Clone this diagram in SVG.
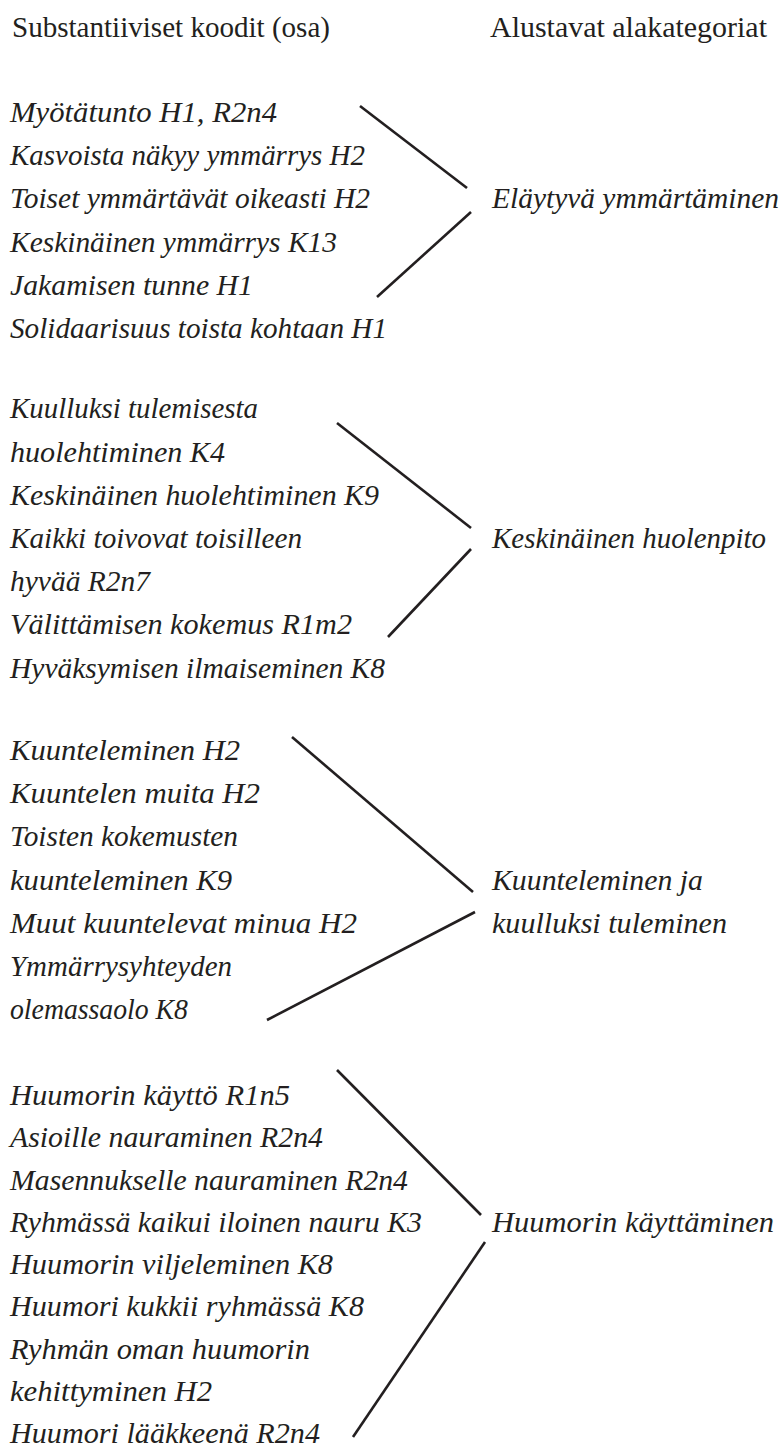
<svg xmlns="http://www.w3.org/2000/svg" width="783" height="1449" viewBox="0 0 783 1449">
  <style>
    text { font-family: "Liberation Serif", "DejaVu Serif", serif; fill: #231f20; font-size: 29.5px; }
    .head { font-style: normal; }
    .code, .cat { font-style: italic; }
    .link { stroke: #231f20; stroke-width: 2.6; fill: none; stroke-linecap: butt; }
  </style>
  <rect width="783" height="1449" fill="#ffffff"/>

  <!-- column headings -->
  <g id="headings">
    <text class="head" x="12" y="37" textLength="318" lengthAdjust="spacingAndGlyphs">Substantiiviset koodit (osa)</text>
    <text class="head" x="490" y="37" textLength="277" lengthAdjust="spacingAndGlyphs">Alustavat alakategoriat</text>
  </g>

  <!-- group 1 -->
  <g id="codes-1">
    <text class="code" x="10" y="122" textLength="267" lengthAdjust="spacingAndGlyphs">Myötätunto H1, R2n4</text>
    <text class="code" x="10" y="165" textLength="355" lengthAdjust="spacingAndGlyphs">Kasvoista näkyy ymmärrys H2</text>
    <text class="code" x="10" y="208" textLength="360" lengthAdjust="spacingAndGlyphs">Toiset ymmärtävät oikeasti H2</text>
    <text class="code" x="10" y="252" textLength="327" lengthAdjust="spacingAndGlyphs">Keskinäinen ymmärrys K13</text>
    <text class="code" x="10" y="295" textLength="243" lengthAdjust="spacingAndGlyphs">Jakamisen tunne H1</text>
    <text class="code" x="10" y="338" textLength="377" lengthAdjust="spacingAndGlyphs">Solidaarisuus toista kohtaan H1</text>
  </g>
  <g id="category-1">
    <text class="cat" x="492" y="208" textLength="287" lengthAdjust="spacingAndGlyphs">Eläytyvä ymmärtäminen</text>
  </g>

  <!-- group 2 -->
  <g id="codes-2">
    <text class="code" x="10" y="418" textLength="248" lengthAdjust="spacingAndGlyphs">Kuulluksi tulemisesta</text>
    <text class="code" x="10" y="462" textLength="215" lengthAdjust="spacingAndGlyphs">huolehtiminen K4</text>
    <text class="code" x="10" y="505" textLength="369" lengthAdjust="spacingAndGlyphs">Keskinäinen huolehtiminen K9</text>
    <text class="code" x="10" y="548" textLength="292" lengthAdjust="spacingAndGlyphs">Kaikki toivovat toisilleen</text>
    <text class="code" x="10" y="591" textLength="140" lengthAdjust="spacingAndGlyphs">hyvää R2n7</text>
    <text class="code" x="10" y="634" textLength="342" lengthAdjust="spacingAndGlyphs">Välittämisen kokemus R1m2</text>
    <text class="code" x="10" y="678" textLength="375" lengthAdjust="spacingAndGlyphs">Hyväksymisen ilmaiseminen K8</text>
  </g>
  <g id="category-2">
    <text class="cat" x="492" y="548" textLength="274" lengthAdjust="spacingAndGlyphs">Keskinäinen huolenpito</text>
  </g>

  <!-- group 3 -->
  <g id="codes-3">
    <text class="code" x="10" y="760" textLength="230" lengthAdjust="spacingAndGlyphs">Kuunteleminen H2</text>
    <text class="code" x="10" y="803" textLength="250" lengthAdjust="spacingAndGlyphs">Kuuntelen muita H2</text>
    <text class="code" x="10" y="846" textLength="228" lengthAdjust="spacingAndGlyphs">Toisten kokemusten</text>
    <text class="code" x="10" y="890" textLength="222" lengthAdjust="spacingAndGlyphs">kuunteleminen K9</text>
    <text class="code" x="10" y="933" textLength="347" lengthAdjust="spacingAndGlyphs">Muut kuuntelevat minua H2</text>
    <text class="code" x="10" y="976" textLength="222" lengthAdjust="spacingAndGlyphs">Ymmärrysyhteyden</text>
    <text class="code" x="10" y="1019" textLength="178" lengthAdjust="spacingAndGlyphs">olemassaolo K8</text>
  </g>
  <g id="category-3">
    <text class="cat" x="492" y="890" textLength="211" lengthAdjust="spacingAndGlyphs">Kuunteleminen ja</text>
    <text class="cat" x="492" y="933" textLength="235" lengthAdjust="spacingAndGlyphs">kuulluksi tuleminen</text>
  </g>

  <!-- group 4 -->
  <g id="codes-4">
    <text class="code" x="10" y="1105" textLength="280" lengthAdjust="spacingAndGlyphs">Huumorin käyttö R1n5</text>
    <text class="code" x="10" y="1147" textLength="313" lengthAdjust="spacingAndGlyphs">Asioille nauraminen R2n4</text>
    <text class="code" x="10" y="1190" textLength="398" lengthAdjust="spacingAndGlyphs">Masennukselle nauraminen R2n4</text>
    <text class="code" x="10" y="1232" textLength="412" lengthAdjust="spacingAndGlyphs">Ryhmässä kaikui iloinen nauru K3</text>
    <text class="code" x="10" y="1274" textLength="323" lengthAdjust="spacingAndGlyphs">Huumorin viljeleminen K8</text>
    <text class="code" x="10" y="1316" textLength="354" lengthAdjust="spacingAndGlyphs">Huumori kukkii ryhmässä K8</text>
    <text class="code" x="10" y="1359" textLength="300" lengthAdjust="spacingAndGlyphs">Ryhmän oman huumorin</text>
    <text class="code" x="10" y="1401" textLength="202" lengthAdjust="spacingAndGlyphs">kehittyminen H2</text>
    <text class="code" x="10" y="1443" textLength="310" lengthAdjust="spacingAndGlyphs">Huumori lääkkeenä R2n4</text>
  </g>
  <g id="category-4">
    <text class="cat" x="492" y="1232" textLength="282" lengthAdjust="spacingAndGlyphs">Huumorin käyttäminen</text>
  </g>

  <!-- bracket strokes joining codes to categories -->
  <g id="connectors">
    <line class="link" x1="360" y1="106" x2="467" y2="188"/>
    <line class="link" x1="471" y1="212" x2="377" y2="297"/>
    <line class="link" x1="337" y1="423" x2="471" y2="528"/>
    <line class="link" x1="471" y1="549" x2="388" y2="637"/>
    <line class="link" x1="292" y1="737" x2="473" y2="892"/>
    <line class="link" x1="475" y1="912" x2="267" y2="1020"/>
    <line class="link" x1="337" y1="1070" x2="481" y2="1215"/>
    <line class="link" x1="485" y1="1242" x2="353" y2="1437"/>
  </g>
</svg>
